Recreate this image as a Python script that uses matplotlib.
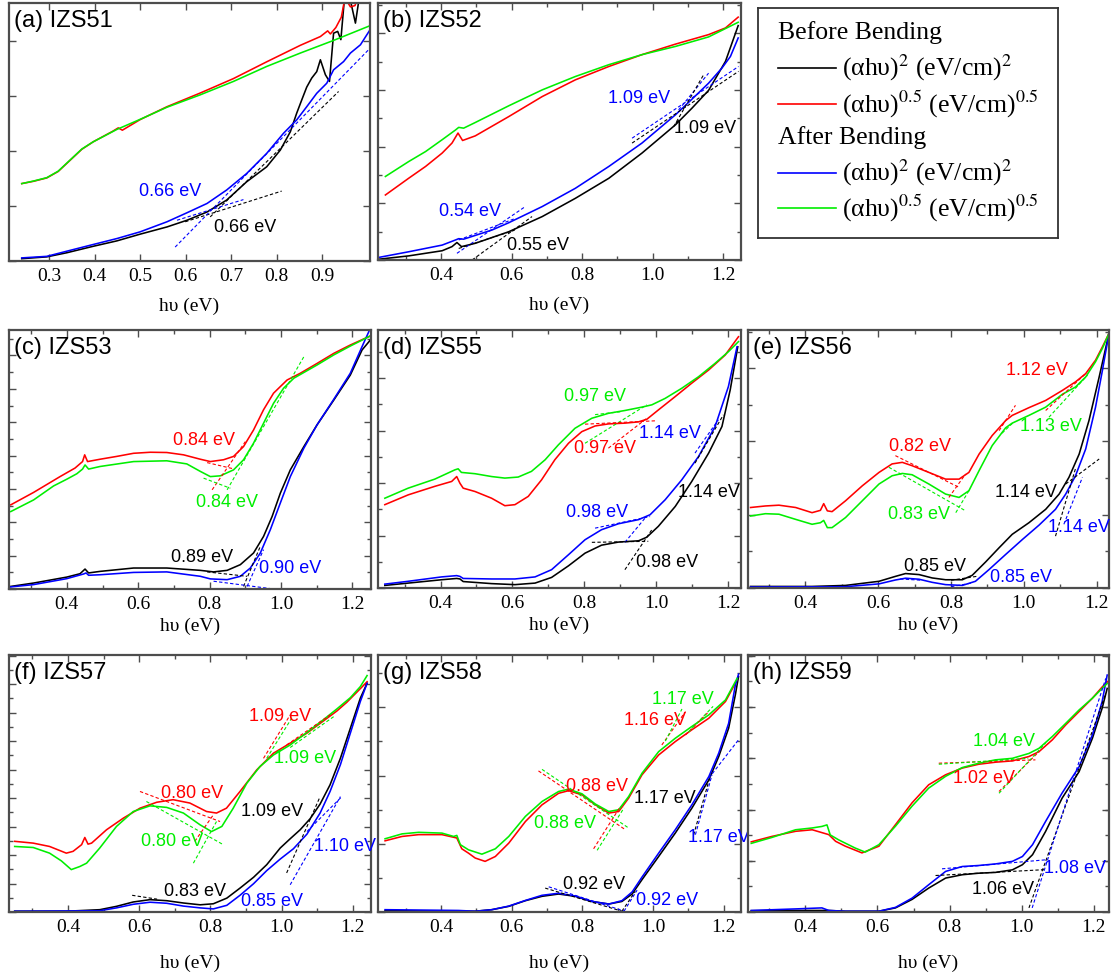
import matplotlib
matplotlib.use("Agg")
import matplotlib.pyplot as plt
from matplotlib.ticker import MultipleLocator, FixedLocator, FormatStrFormatter

plt.rcParams["mathtext.fontset"] = "stix"
plt.rcParams["font.family"] = ["Liberation Serif", "DejaVu Serif"]
SANS = ["Liberation Sans", "DejaVu Sans"]

INK = {"k": "#000000", "r": "#ff0000", "b": "#0000ff", "g": "#00ee00"}
FRAME = "#4d4d4d"

# ---------------- (a) IZS51 ----------------
a_black = [(0.240, 0.009), (0.295, 0.016), (0.339, 0.032), (0.397, 0.057), (0.449, 0.078),
           (0.500, 0.104), (0.559, 0.132), (0.603, 0.158), (0.647, 0.190), (0.690, 0.236),
           (0.734, 0.307), (0.778, 0.365), (0.808, 0.430), (0.830, 0.501), (0.844, 0.573),
           (0.855, 0.624), (0.866, 0.674), (0.877, 0.709), (0.888, 0.734), (0.896, 0.780),
           (0.907, 0.722), (0.916, 0.696), (0.925, 0.883), (0.934, 0.890), (0.941, 0.858),
           (0.948, 1.000), (0.962, 1.010), (0.973, 0.922), (0.983, 1.040)]
a_red = [(0.240, 0.300), (0.266, 0.309), (0.295, 0.322), (0.320, 0.347), (0.346, 0.390),
         (0.372, 0.433), (0.397, 0.462), (0.440, 0.503), (0.452, 0.516), (0.461, 0.507),
         (0.500, 0.548), (0.559, 0.598), (0.632, 0.651), (0.705, 0.707), (0.778, 0.772),
         (0.852, 0.836), (0.896, 0.870), (0.912, 0.892), (0.918, 0.880), (0.930, 0.905),
         (0.942, 0.945), (0.950, 1.020), (0.962, 0.985), (0.972, 0.990), (0.980, 1.030)]
a_blue = [(0.240, 0.012), (0.295, 0.018), (0.339, 0.038), (0.397, 0.064), (0.449, 0.087),
          (0.500, 0.113), (0.559, 0.152), (0.603, 0.187), (0.647, 0.223), (0.690, 0.275),
          (0.734, 0.339), (0.778, 0.417), (0.815, 0.495), (0.844, 0.547), (0.866, 0.598),
          (0.888, 0.650), (0.910, 0.689), (0.925, 0.741), (0.947, 0.773), (0.962, 0.806),
          (0.984, 0.838), (1.005, 0.896)]
a_green = [(0.240, 0.300), (0.266, 0.310), (0.295, 0.323), (0.320, 0.348), (0.346, 0.391),
           (0.372, 0.434), (0.397, 0.462), (0.449, 0.510), (0.500, 0.549), (0.559, 0.596),
           (0.632, 0.644), (0.705, 0.696), (0.778, 0.754), (0.852, 0.806), (0.925, 0.855),
           (1.005, 0.912)]
a_tangents = [("k", 0.599, 0.152, 0.811, 0.271), ("k", 0.654, 0.171, 0.936, 0.657),
              ("b", 0.581, 0.158, 0.727, 0.238), ("b", 0.577, 0.054, 1.002, 0.819)]
a_gaps = [(0.66, "b"), (0.66, "k")]
a_gap_pos = [(0.566, 0.271), (0.731, 0.128)]

# ---------------- (b) IZS52 ----------------
b_black = [(0.223, 0.003), (0.308, 0.016), (0.403, 0.036), (0.431, 0.052), (0.445, 0.068),
           (0.458, 0.052), (0.497, 0.065), (0.592, 0.110), (0.687, 0.169), (0.781, 0.240),
           (0.876, 0.318), (0.970, 0.416), (1.065, 0.526), (1.112, 0.591), (1.159, 0.660),
           (1.207, 0.773), (1.243, 0.912)]
b_red = [(0.242, 0.253), (0.308, 0.318), (0.356, 0.364), (0.403, 0.416), (0.431, 0.455),
         (0.448, 0.494), (0.461, 0.465), (0.497, 0.483), (0.592, 0.558), (0.687, 0.636),
         (0.781, 0.701), (0.876, 0.753), (0.970, 0.799), (1.065, 0.840), (1.159, 0.877),
         (1.207, 0.903), (1.243, 0.945)]
b_blue = [(0.223, 0.010), (0.308, 0.032), (0.403, 0.058), (0.441, 0.078), (0.450, 0.083),
          (0.464, 0.081), (0.545, 0.117), (0.592, 0.145), (0.687, 0.208), (0.781, 0.279),
          (0.876, 0.364), (0.970, 0.455), (1.065, 0.565), (1.112, 0.626), (1.159, 0.688),
          (1.197, 0.747), (1.221, 0.792), (1.243, 0.864)]
b_green = [(0.242, 0.325), (0.308, 0.383), (0.356, 0.422), (0.403, 0.468), (0.441, 0.506),
           (0.450, 0.516), (0.464, 0.513), (0.497, 0.535), (0.592, 0.600), (0.687, 0.662),
           (0.781, 0.714), (0.876, 0.760), (0.970, 0.799), (1.065, 0.831), (1.159, 0.868),
           (1.243, 0.925)]
b_tangents = [("b", 0.445, 0.026, 0.639, 0.208), ("b", 0.450, 0.078, 0.611, 0.162),
              ("b", 0.942, 0.474, 1.244, 0.753), ("b", 1.074, 0.584, 1.159, 0.727),
              ("k", 0.488, 0.000, 0.658, 0.169), ("k", 0.450, 0.045, 0.611, 0.117),
              ("k", 0.942, 0.455, 1.244, 0.734), ("k", 1.060, 0.519, 1.145, 0.721)]
b_gaps = [(1.09, "b"), (1.09, "k"), (0.54, "b"), (0.55, "k")]
b_gap_pos = [(0.961, 0.630), (1.150, 0.513), (0.481, 0.188), (0.675, 0.056)]

# ---------------- (c) IZS53 ----------------
c_black = [(0.243, 0.010), (0.307, 0.023), (0.400, 0.046), (0.437, 0.059), (0.451, 0.077),
           (0.461, 0.062), (0.493, 0.068), (0.587, 0.081), (0.680, 0.081), (0.774, 0.072),
           (0.811, 0.066), (0.849, 0.072), (0.886, 0.094), (0.923, 0.139), (0.951, 0.203),
           (0.975, 0.280), (0.998, 0.370), (1.026, 0.460), (1.064, 0.550), (1.101, 0.634),
           (1.148, 0.730), (1.194, 0.826), (1.227, 0.923), (1.250, 0.961)]
c_red = [(0.243, 0.325), (0.307, 0.373), (0.381, 0.434), (0.423, 0.467), (0.444, 0.492),
         (0.450, 0.518), (0.458, 0.492), (0.493, 0.501), (0.540, 0.512), (0.587, 0.524),
         (0.634, 0.528), (0.680, 0.527), (0.727, 0.518), (0.774, 0.501), (0.802, 0.492),
         (0.839, 0.499), (0.867, 0.512), (0.895, 0.550), (0.923, 0.614), (0.951, 0.692),
         (0.979, 0.756), (1.017, 0.807), (1.054, 0.833), (1.101, 0.871), (1.148, 0.910),
         (1.194, 0.942), (1.250, 0.977)]
c_blue = [(0.243, 0.008), (0.307, 0.017), (0.400, 0.040), (0.447, 0.058), (0.454, 0.062),
          (0.461, 0.053), (0.493, 0.055), (0.587, 0.064), (0.680, 0.066), (0.774, 0.049),
          (0.802, 0.039), (0.849, 0.036), (0.886, 0.049), (0.914, 0.081), (0.942, 0.139),
          (0.970, 0.229), (0.998, 0.332), (1.026, 0.434), (1.064, 0.544), (1.101, 0.634),
          (1.148, 0.733), (1.194, 0.833), (1.227, 0.936), (1.246, 0.994)]
c_green = [(0.243, 0.299), (0.307, 0.344), (0.363, 0.398), (0.400, 0.424), (0.428, 0.445),
           (0.444, 0.463), (0.451, 0.479), (0.461, 0.463), (0.493, 0.473), (0.587, 0.492),
           (0.680, 0.495), (0.736, 0.483), (0.774, 0.454), (0.802, 0.434), (0.830, 0.437),
           (0.867, 0.460), (0.895, 0.499), (0.923, 0.563), (0.951, 0.640), (0.979, 0.717),
           (1.007, 0.775), (1.036, 0.814), (1.101, 0.865), (1.148, 0.904), (1.194, 0.938),
           (1.250, 0.977)]
c_tangents = [("r", 0.793, 0.488, 0.867, 0.464), ("r", 0.807, 0.383, 0.900, 0.569),
              ("g", 0.783, 0.428, 0.858, 0.389), ("g", 0.849, 0.383, 1.064, 0.897),
              ("k", 0.793, 0.066, 0.905, 0.049), ("k", 0.895, 0.010, 0.942, 0.165),
              ("b", 0.811, 0.030, 0.979, 0.000), ("b", 0.905, 0.010, 0.951, 0.152)]
c_gaps = [(0.84, "r"), (0.84, "g"), (0.89, "k"), (0.90, "b")]
c_gap_pos = [(0.785, 0.573), (0.849, 0.334), (0.779, 0.123), (1.026, 0.078)]

# ---------------- (d) IZS55 ----------------
d_black = [(0.245, 0.010), (0.310, 0.019), (0.403, 0.032), (0.445, 0.037), (0.454, 0.035),
           (0.463, 0.025), (0.542, 0.017), (0.607, 0.013), (0.663, 0.019), (0.709, 0.041),
           (0.756, 0.086), (0.802, 0.135), (0.848, 0.166), (0.895, 0.178), (0.951, 0.183),
           (0.974, 0.197), (1.006, 0.239), (1.053, 0.316), (1.099, 0.413), (1.146, 0.523),
           (1.183, 0.626), (1.206, 0.768), (1.227, 0.935)]
d_red = [(0.245, 0.323), (0.310, 0.361), (0.384, 0.394), (0.431, 0.413), (0.445, 0.432),
         (0.454, 0.406), (0.463, 0.387), (0.496, 0.374), (0.542, 0.348), (0.579, 0.319),
         (0.607, 0.323), (0.644, 0.355), (0.681, 0.419), (0.718, 0.497), (0.756, 0.561),
         (0.793, 0.606), (0.830, 0.628), (0.867, 0.636), (0.913, 0.639), (0.951, 0.644),
         (0.974, 0.654), (1.006, 0.690), (1.053, 0.742), (1.099, 0.794), (1.146, 0.845),
         (1.192, 0.903), (1.229, 0.974)]
d_blue = [(0.245, 0.015), (0.310, 0.026), (0.403, 0.043), (0.445, 0.048), (0.454, 0.045),
          (0.463, 0.037), (0.542, 0.035), (0.607, 0.035), (0.663, 0.043), (0.709, 0.071),
          (0.756, 0.129), (0.802, 0.187), (0.848, 0.226), (0.895, 0.249), (0.951, 0.265),
          (0.983, 0.284), (1.025, 0.342), (1.071, 0.419), (1.118, 0.510), (1.164, 0.626),
          (1.201, 0.781), (1.225, 0.935)]
d_green = [(0.245, 0.348), (0.310, 0.387), (0.384, 0.422), (0.440, 0.458), (0.449, 0.462),
           (0.458, 0.448), (0.496, 0.443), (0.542, 0.432), (0.579, 0.426), (0.616, 0.430),
           (0.653, 0.452), (0.691, 0.497), (0.728, 0.555), (0.774, 0.619), (0.821, 0.658),
           (0.867, 0.677), (0.913, 0.688), (0.960, 0.701), (0.988, 0.710), (1.025, 0.735),
           (1.071, 0.774), (1.118, 0.819), (1.164, 0.871), (1.201, 0.916), (1.229, 0.955)]
d_tangents = [("g", 0.802, 0.561, 0.974, 0.710), ("g", 0.830, 0.672, 0.900, 0.683),
              ("r", 0.802, 0.635, 0.997, 0.648), ("r", 0.867, 0.542, 0.974, 0.658),
              ("b", 0.830, 0.232, 0.983, 0.277), ("b", 0.913, 0.177, 0.969, 0.271),
              ("b", 1.108, 0.523, 1.173, 0.652),
              ("k", 0.821, 0.177, 0.978, 0.181), ("k", 0.913, 0.071, 0.988, 0.226),
              ("k", 1.108, 0.484, 1.187, 0.671)]
d_gaps = [(0.97, "g"), (0.97, "r"), (1.14, "b"), (1.14, "k"), (0.98, "b"), (0.98, "k")]
d_gap_pos = [(0.830, 0.742), (0.858, 0.542), (1.039, 0.600), (1.146, 0.370),
             (0.835, 0.293), (1.030, 0.099)]

# ---------------- (e) IZS56 ----------------
e_black = [(0.249, 0.006), (0.418, 0.006), (0.510, 0.010), (0.602, 0.026), (0.647, 0.045),
           (0.675, 0.056), (0.712, 0.052), (0.748, 0.039), (0.785, 0.032), (0.831, 0.032),
           (0.858, 0.049), (0.895, 0.101), (0.932, 0.156), (0.968, 0.208), (1.014, 0.253),
           (1.060, 0.305), (1.097, 0.364), (1.124, 0.429), (1.152, 0.519), (1.179, 0.649),
           (1.207, 0.818), (1.234, 0.987)]
e_red = [(0.249, 0.312), (0.290, 0.318), (0.327, 0.321), (0.373, 0.312), (0.418, 0.292),
         (0.441, 0.301), (0.450, 0.327), (0.460, 0.299), (0.473, 0.296), (0.510, 0.338),
         (0.556, 0.396), (0.602, 0.448), (0.638, 0.481), (0.666, 0.487), (0.693, 0.474),
         (0.739, 0.448), (0.785, 0.422), (0.822, 0.422), (0.849, 0.448), (0.877, 0.519),
         (0.913, 0.591), (0.950, 0.649), (0.968, 0.669), (1.014, 0.699), (1.060, 0.727),
         (1.106, 0.766), (1.142, 0.799), (1.170, 0.831), (1.197, 0.883), (1.216, 0.935),
         (1.234, 0.987)]
e_blue = [(0.249, 0.004), (0.510, 0.005), (0.602, 0.016), (0.647, 0.031), (0.675, 0.038),
          (0.712, 0.034), (0.748, 0.022), (0.785, 0.013), (0.831, 0.010), (0.867, 0.026),
          (0.904, 0.071), (0.950, 0.130), (0.996, 0.188), (1.042, 0.244), (1.087, 0.305),
          (1.115, 0.364), (1.142, 0.435), (1.170, 0.539), (1.197, 0.701), (1.216, 0.844),
          (1.234, 0.987)]
e_green = [(0.249, 0.279), (0.290, 0.288), (0.327, 0.286), (0.373, 0.266), (0.418, 0.247),
           (0.441, 0.253), (0.450, 0.262), (0.460, 0.234), (0.473, 0.234), (0.510, 0.273),
           (0.556, 0.338), (0.602, 0.403), (0.638, 0.435), (0.666, 0.444), (0.693, 0.439),
           (0.739, 0.403), (0.785, 0.364), (0.822, 0.351), (0.849, 0.377), (0.877, 0.455),
           (0.913, 0.552), (0.950, 0.621), (0.968, 0.639), (1.014, 0.669), (1.060, 0.701),
           (1.106, 0.751), (1.142, 0.779), (1.170, 0.818), (1.197, 0.877), (1.216, 0.929),
           (1.234, 0.987)]
e_tangents = [("r", 0.647, 0.513, 0.822, 0.390), ("r", 0.794, 0.351, 0.840, 0.442),
              ("r", 0.932, 0.610, 0.977, 0.708), ("r", 1.060, 0.688, 1.170, 0.831),
              ("g", 0.629, 0.468, 0.840, 0.299), ("g", 0.813, 0.292, 0.849, 0.377),
              ("g", 0.940, 0.600, 0.970, 0.640), ("g", 1.069, 0.662, 1.175, 0.825),
              ("k", 1.087, 0.201, 1.143, 0.468), ("k", 1.115, 0.403, 1.207, 0.500),
              ("k", 0.800, 0.030, 0.870, 0.045),
              ("b", 1.110, 0.247, 1.161, 0.429), ("b", 0.660, 0.035, 0.720, 0.030),
              ("b", 0.800, 0.005, 0.860, 0.020)]
e_gaps = [(1.12, "r"), (1.13, "g"), (0.82, "r"), (0.83, "g"), (1.14, "k"), (1.14, "b"),
          (0.85, "k"), (0.85, "b")]
e_gap_pos = [(1.037, 0.844), (1.074, 0.626), (0.716, 0.548), (0.712, 0.286),
             (1.005, 0.370), (1.152, 0.234), (0.757, 0.084), (0.991, 0.042)]

# ---------------- (f) IZS57 ----------------
f_black = [(0.250, 0.003), (0.395, 0.003), (0.489, 0.009), (0.536, 0.022), (0.583, 0.039),
           (0.630, 0.048), (0.677, 0.044), (0.724, 0.035), (0.771, 0.028), (0.808, 0.032),
           (0.846, 0.054), (0.883, 0.093), (0.921, 0.135), (0.958, 0.184), (0.996, 0.249),
           (1.024, 0.285), (1.052, 0.320), (1.080, 0.363), (1.108, 0.420), (1.136, 0.495),
           (1.165, 0.598), (1.193, 0.715), (1.221, 0.832), (1.240, 0.890)]
f_red = [(0.250, 0.275), (0.302, 0.268), (0.348, 0.255), (0.395, 0.229), (0.414, 0.236),
         (0.438, 0.262), (0.447, 0.290), (0.456, 0.264), (0.466, 0.268), (0.508, 0.320),
         (0.555, 0.365), (0.602, 0.404), (0.649, 0.427), (0.695, 0.437), (0.742, 0.424),
         (0.789, 0.391), (0.817, 0.385), (0.845, 0.404), (0.883, 0.469), (0.930, 0.553),
         (0.977, 0.618), (1.024, 0.657), (1.071, 0.696), (1.118, 0.744), (1.155, 0.782),
         (1.183, 0.816), (1.211, 0.855), (1.240, 0.896)]
f_blue = [(0.250, 0.003), (0.489, 0.005), (0.536, 0.016), (0.583, 0.030), (0.630, 0.038),
          (0.677, 0.034), (0.724, 0.023), (0.771, 0.016), (0.808, 0.012), (0.846, 0.026),
          (0.883, 0.065), (0.921, 0.110), (0.958, 0.161), (0.996, 0.206), (1.033, 0.246),
          (1.071, 0.303), (1.108, 0.385), (1.136, 0.469), (1.165, 0.573), (1.193, 0.696),
          (1.221, 0.819), (1.240, 0.890)]
f_green = [(0.250, 0.255), (0.302, 0.251), (0.348, 0.229), (0.381, 0.199), (0.409, 0.165),
           (0.433, 0.177), (0.452, 0.190), (0.489, 0.249), (0.536, 0.333), (0.583, 0.391),
           (0.630, 0.413), (0.677, 0.407), (0.724, 0.385), (0.771, 0.339), (0.803, 0.313),
           (0.832, 0.333), (0.864, 0.404), (0.902, 0.501), (0.939, 0.566), (0.977, 0.611),
           (1.024, 0.650), (1.071, 0.699), (1.118, 0.749), (1.155, 0.790), (1.193, 0.834),
           (1.221, 0.877), (1.240, 0.920)]
f_tangents = [("r", 0.602, 0.469, 0.827, 0.352), ("r", 0.756, 0.275, 0.808, 0.378),
              ("r", 0.949, 0.598, 1.024, 0.767), ("r", 1.014, 0.650, 1.136, 0.767),
              ("g", 0.620, 0.430, 0.836, 0.262), ("g", 0.752, 0.190, 0.817, 0.352),
              ("g", 0.958, 0.598, 1.033, 0.765), ("g", 1.024, 0.640, 1.146, 0.760),
              ("k", 1.014, 0.152, 1.108, 0.449), ("k", 0.580, 0.065, 0.650, 0.050),
              ("b", 1.024, 0.106, 1.165, 0.449), ("b", 1.071, 0.313, 1.169, 0.449)]
f_gaps = [(1.09, "r"), (1.09, "g"), (0.80, "r"), (0.80, "g"), (1.09, "k"), (1.10, "b"),
          (0.83, "k"), (0.85, "b")]
f_gap_pos = [(0.996, 0.760), (1.066, 0.598), (0.747, 0.462), (0.691, 0.275),
             (0.972, 0.391), (1.179, 0.255), (0.756, 0.080), (0.972, 0.041)]

# ---------------- (g) IZS58 ----------------
g_black = [(0.242, 0.005), (0.497, 0.003), (0.544, 0.009), (0.592, 0.022), (0.639, 0.044),
           (0.686, 0.061), (0.733, 0.070), (0.780, 0.061), (0.827, 0.041), (0.875, 0.031),
           (0.912, 0.041), (0.941, 0.070), (0.969, 0.126), (1.016, 0.216), (1.063, 0.307),
           (1.110, 0.404), (1.158, 0.514), (1.186, 0.605), (1.214, 0.715), (1.233, 0.845),
           (1.242, 0.916)]
g_red = [(0.242, 0.277), (0.290, 0.294), (0.337, 0.301), (0.403, 0.301), (0.445, 0.288),
         (0.459, 0.246), (0.478, 0.229), (0.497, 0.210), (0.525, 0.197), (0.554, 0.216),
         (0.592, 0.268), (0.639, 0.352), (0.686, 0.417), (0.733, 0.462), (0.761, 0.472),
         (0.799, 0.456), (0.837, 0.417), (0.875, 0.385), (0.903, 0.391), (0.931, 0.443),
         (0.969, 0.534), (1.016, 0.611), (1.063, 0.663), (1.110, 0.709), (1.158, 0.754),
         (1.205, 0.819), (1.238, 0.903)]
g_blue = [(0.242, 0.009), (0.450, 0.006), (0.497, 0.003), (0.544, 0.009), (0.592, 0.023),
          (0.639, 0.045), (0.686, 0.065), (0.733, 0.073), (0.780, 0.062), (0.827, 0.041),
          (0.875, 0.031), (0.912, 0.044), (0.941, 0.078), (0.969, 0.136), (1.016, 0.229),
          (1.063, 0.320), (1.110, 0.417), (1.158, 0.527), (1.186, 0.618), (1.214, 0.734),
          (1.233, 0.883), (1.242, 0.925)]
g_green = [(0.242, 0.285), (0.290, 0.304), (0.337, 0.310), (0.403, 0.307), (0.436, 0.294),
           (0.445, 0.298), (0.455, 0.262), (0.478, 0.242), (0.516, 0.225), (0.554, 0.246),
           (0.592, 0.294), (0.639, 0.372), (0.686, 0.430), (0.733, 0.469), (0.761, 0.478),
           (0.799, 0.460), (0.837, 0.420), (0.875, 0.391), (0.903, 0.398), (0.931, 0.449),
           (0.969, 0.540), (1.016, 0.624), (1.063, 0.676), (1.110, 0.722), (1.158, 0.767),
           (1.205, 0.825), (1.238, 0.909)]
g_tangents = [("r", 0.676, 0.549, 0.922, 0.320), ("r", 0.832, 0.246, 0.908, 0.411),
              ("r", 1.025, 0.650, 1.092, 0.780), ("r", 1.092, 0.689, 1.158, 0.780),
              ("g", 0.686, 0.555, 0.932, 0.326), ("g", 0.842, 0.240, 0.918, 0.405),
              ("g", 1.035, 0.665, 1.082, 0.790), ("g", 1.100, 0.700, 1.170, 0.800),
              ("k", 0.695, 0.093, 0.912, 0.003), ("k", 0.912, 0.003, 0.950, 0.080),
              ("k", 1.115, 0.300, 1.160, 0.520),
              ("b", 0.705, 0.098, 0.920, 0.003), ("b", 0.918, 0.003, 0.955, 0.085),
              ("b", 1.120, 0.301, 1.167, 0.534), ("b", 1.158, 0.521, 1.242, 0.670)]
g_gaps = [(1.17, "g"), (1.16, "r"), (0.88, "r"), (1.17, "k"), (0.88, "g"), (1.17, "b"),
          (0.92, "k"), (0.92, "b")]
g_gap_pos = [(1.084, 0.825), (1.005, 0.747), (0.842, 0.488), (1.035, 0.443),
             (0.752, 0.346), (1.186, 0.288), (0.832, 0.106), (1.040, 0.044)]

# ---------------- (h) IZS59 ----------------
h_black = [(0.250, 0.005), (0.373, 0.006), (0.465, 0.006), (0.511, 0.003), (0.604, 0.003),
           (0.650, 0.016), (0.696, 0.049), (0.742, 0.093), (0.789, 0.132), (0.835, 0.145),
           (0.881, 0.151), (0.927, 0.154), (0.974, 0.164), (1.002, 0.184), (1.030, 0.223),
           (1.066, 0.313), (1.112, 0.443), (1.159, 0.546), (1.196, 0.676), (1.223, 0.793),
           (1.237, 0.870)]
h_red = [(0.250, 0.273), (0.307, 0.294), (0.373, 0.314), (0.419, 0.320), (0.465, 0.301),
         (0.484, 0.275), (0.511, 0.256), (0.557, 0.230), (0.604, 0.256), (0.650, 0.340),
         (0.696, 0.425), (0.742, 0.495), (0.789, 0.534), (0.835, 0.560), (0.881, 0.575),
         (0.928, 0.583), (0.974, 0.588), (1.020, 0.605), (1.048, 0.624), (1.085, 0.670),
         (1.122, 0.728), (1.159, 0.780), (1.196, 0.832), (1.224, 0.877), (1.238, 0.896)]
h_blue = [(0.250, 0.006), (0.373, 0.012), (0.446, 0.016), (0.465, 0.006), (0.511, 0.003),
          (0.604, 0.003), (0.650, 0.018), (0.696, 0.054), (0.742, 0.106), (0.789, 0.158),
          (0.835, 0.177), (0.881, 0.181), (0.927, 0.187), (0.974, 0.197), (1.002, 0.216),
          (1.030, 0.262), (1.066, 0.352), (1.112, 0.463), (1.159, 0.565), (1.196, 0.689),
          (1.223, 0.819), (1.237, 0.922)]
h_green = [(0.250, 0.267), (0.307, 0.290), (0.373, 0.320), (0.419, 0.327), (0.446, 0.333),
           (0.460, 0.339), (0.469, 0.300), (0.492, 0.281), (0.538, 0.249), (0.566, 0.233),
           (0.604, 0.262), (0.650, 0.334), (0.696, 0.412), (0.742, 0.482), (0.789, 0.528),
           (0.835, 0.562), (0.881, 0.579), (0.927, 0.592), (0.974, 0.598), (1.020, 0.617),
           (1.048, 0.637), (1.085, 0.683), (1.122, 0.734), (1.159, 0.786), (1.196, 0.832),
           (1.223, 0.870), (1.237, 0.889)]
h_tangents = [("r", 0.770, 0.579, 1.038, 0.592), ("r", 0.937, 0.469, 1.048, 0.624),
              ("g", 0.770, 0.575, 1.018, 0.598), ("g", 0.937, 0.462, 1.066, 0.657),
              ("k", 0.761, 0.142, 1.066, 0.165), ("k", 1.020, 0.016, 1.233, 0.850),
              ("b", 0.779, 0.168, 1.066, 0.203), ("b", 1.029, 0.016, 1.233, 0.909)]
h_gaps = [(1.04, "g"), (1.02, "r"), (1.08, "b"), (1.06, "k")]
h_gap_pos = [(0.950, 0.663), (0.895, 0.521), (1.149, 0.168), (0.948, 0.087)]

SAMPLES = ["IZS51", "IZS52", "IZS53", "IZS55", "IZS56", "IZS57", "IZS58", "IZS59"]

# ---------------- layout (pixel boxes: left, top, right, bottom) ----------------
W, H = 1113, 973
LAYOUT = {
    "a": dict(box=(9, 3, 370, 261), xlim=(0.212, 1.005), xmaj=[0.3, 0.4, 0.5, 0.6, 0.7, 0.8, 0.9],
              xmin=None, ymaj=0.2135, ymin=None, xlab=37),
    "b": dict(box=(378, 3, 741, 260), xlim=(0.221, 1.251), xmaj=[0.4, 0.6, 0.8, 1.0, 1.2],
              xmin=0.1, ymaj=0.2205, ymin=0.11025, xlab=37),
    "c": dict(box=(9, 330, 371, 589), xlim=(0.238, 1.252), xmaj=[0.4, 0.6, 0.8, 1.0, 1.2],
              xmin=0.1, ymaj=0.1288, ymin=0.0644, xlab=29),
    "d": dict(box=(378, 330, 741, 588), xlim=(0.226, 1.236), xmaj=[0.4, 0.6, 0.8, 1.0, 1.2],
              xmin=0.1, ymaj=0.2034, ymin=0.1017, xlab=29),
    "e": dict(box=(748, 330, 1109, 588), xlim=(0.242, 1.234), xmaj=[0.4, 0.6, 0.8, 1.0, 1.2],
              xmin=0.1, ymaj=0.284, ymin=0.142, xlab=29),
    "f": dict(box=(9, 655, 371, 912), xlim=(0.234, 1.251), xmaj=[0.4, 0.6, 0.8, 1.0, 1.2],
              xmin=0.1, ymaj=0.1108, ymin=0.0554, xlab=43),
    "g": dict(box=(378, 655, 741, 912), xlim=(0.222, 1.249), xmaj=[0.4, 0.6, 0.8, 1.0, 1.2],
              xmin=0.1, ymaj=0.2654, ymin=0.1327, xlab=43),
    "h": dict(box=(748, 655, 1109, 912), xlim=(0.241, 1.242), xmaj=[0.4, 0.6, 0.8, 1.0, 1.2],
              xmin=0.1, ymaj=0.1993, ymin=0.0997, xlab=43),
}

PANELS = [
    ("a", a_black, a_red, a_blue, a_green, a_tangents, a_gaps, a_gap_pos),
    ("b", b_black, b_red, b_blue, b_green, b_tangents, b_gaps, b_gap_pos),
    ("c", c_black, c_red, c_blue, c_green, c_tangents, c_gaps, c_gap_pos),
    ("d", d_black, d_red, d_blue, d_green, d_tangents, d_gaps, d_gap_pos),
    ("e", e_black, e_red, e_blue, e_green, e_tangents, e_gaps, e_gap_pos),
    ("f", f_black, f_red, f_blue, f_green, f_tangents, f_gaps, f_gap_pos),
    ("g", g_black, g_red, g_blue, g_green, g_tangents, g_gaps, g_gap_pos),
    ("h", h_black, h_red, h_blue, h_green, h_tangents, h_gaps, h_gap_pos),
]

fig = plt.figure(figsize=(W / 100, H / 100), dpi=100)


def box_axes(box):
    l, t, r, b = box
    return fig.add_axes([l / W, 1 - b / H, (r - l) / W, (b - t) / H])


for (key, black, red, blue, green, tangents, gaps, gap_pos), sample in zip(PANELS, SAMPLES):
    lay = LAYOUT[key]
    ax = box_axes(lay["box"])
    for pts, c in ((black, "k"), (red, "r"), (blue, "b"), (green, "g")):
        xs, ys = zip(*pts)
        ax.plot(xs, ys, color=INK[c], lw=1.15, solid_joinstyle="round")
    for c, x0, y0, x1, y1 in tangents:
        ax.plot([x0, x1], [y0, y1], color=INK[c], lw=0.8, ls=(0, (3, 2)))
    for (val, c), (tx, ty) in zip(gaps, gap_pos):
        ax.text(tx, ty, f"{val:.2f} eV", color=INK[c], fontsize=13, family=SANS,
                ha="center", va="center")
    ax.text(0.013, 0.93, f"({key}) {sample}", transform=ax.transAxes, fontsize=17,
            family=SANS, ha="left", va="center")

    ax.set_xlim(*lay["xlim"])
    ax.set_ylim(0, 1)
    ax.xaxis.set_major_locator(FixedLocator(lay["xmaj"]))
    ax.xaxis.set_major_formatter(FormatStrFormatter("%.1f"))
    if lay["xmin"]:
        ax.xaxis.set_minor_locator(MultipleLocator(lay["xmin"]))
    ax.yaxis.set_major_locator(MultipleLocator(lay["ymaj"]))
    if lay["ymin"]:
        ax.yaxis.set_minor_locator(MultipleLocator(lay["ymin"]))
    ax.tick_params(which="both", direction="in", top=True, right=True, labelleft=False,
                   color=FRAME, width=1.0)
    ax.tick_params(which="major", length=5, labelsize=14, pad=5)
    ax.tick_params(which="minor", length=3)
    for sp in ax.spines.values():
        sp.set_color(FRAME)
        sp.set_linewidth(1.6)
    height_px = lay["box"][3] - lay["box"][1]
    ax.set_xlabel("h\u03c5 (eV)", fontsize=14)
    ax.xaxis.set_label_coords(0.5, -lay["xlab"] / height_px)

# ---------------- legend box ----------------
leg = box_axes((758, 8, 1058, 238))
leg.set_xticks([])
leg.set_yticks([])
for sp in leg.spines.values():
    sp.set_color("#333333")
    sp.set_linewidth(1.3)

LEGEND_ROWS = [
    ("Before Bending", None, 33),
    ("(\u03b1h\u03c5)$^{2}$ (eV/cm)$^{2}$", "k", 68),
    ("(\u03b1h\u03c5)$^{0.5}$ (eV/cm)$^{0.5}$", "r", 104),
    ("After Bending", None, 138),
    ("(\u03b1h\u03c5)$^{2}$ (eV/cm)$^{2}$", "b", 173),
    ("(\u03b1h\u03c5)$^{0.5}$ (eV/cm)$^{0.5}$", "g", 208),
]
for text, c, ypx in LEGEND_ROWS:
    if c is None:
        fig.text(778 / W, 1 - ypx / H, text, fontsize=18.5, ha="left", va="center")
    else:
        fig.add_artist(plt.Line2D([778 / W, 836 / W], [1 - ypx / H, 1 - ypx / H],
                                  color=INK[c], lw=1.2, transform=fig.transFigure))
        fig.text(842 / W, 1 - ypx / H, text, fontsize=18.5, ha="left", va="center")

fig.savefig("out.png", dpi=100)
